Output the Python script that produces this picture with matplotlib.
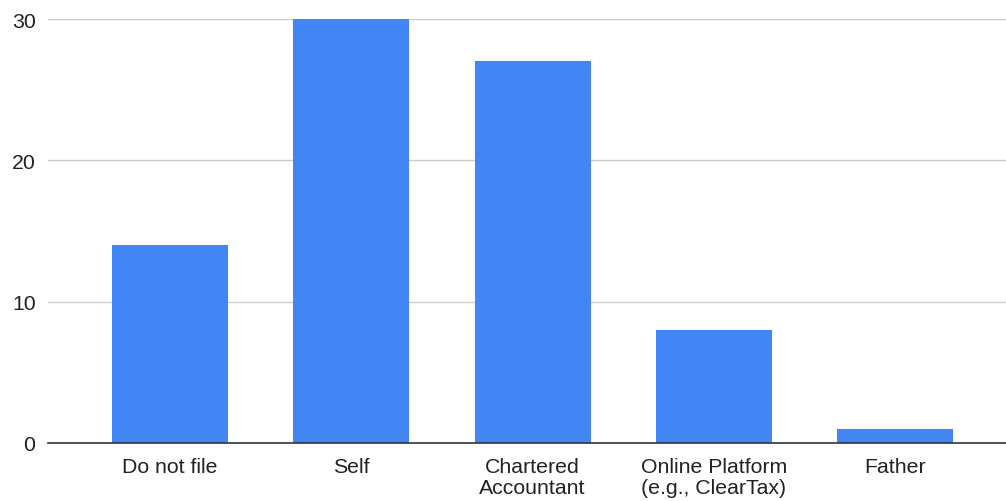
import matplotlib
matplotlib.use("Agg")
import matplotlib.pyplot as plt

categories = ["Do not file", "Self", "Chartered\nAccountant",
              "Online Platform\n(e.g., ClearTax)", "Father"]
counts = [14, 30, 27, 8, 1]
y_ticks = [0, 10, 20, 30]

plt.rcParams["font.family"] = ["Liberation Sans", "DejaVu Sans"]

fig = plt.figure(figsize=(10.06, 5.02), dpi=100)
ax = fig.add_axes([48 / 1006, 1 - 444 / 502, 1 - 48 / 1006, (444 - 20) / 502])

x = list(range(len(categories)))
ax.bar(x, counts, width=0.64, color="#4285F4", zorder=3)

ax.set_xlim(-0.674, 4.613)
ax.set_ylim(0, 30)
ax.set_yticks(y_ticks)
ax.set_xticks(x)
ax.set_xticklabels(categories, fontsize=15.3, color="#222222", linespacing=1.17)
ax.tick_params(axis="y", labelsize=15.3, labelcolor="#222222", length=0, pad=9)
ax.tick_params(axis="x", length=0, pad=10)

ax.grid(axis="y", color="#cccccc", linewidth=1, zorder=0)
for side in ("top", "right", "left"):
    ax.spines[side].set_visible(False)
ax.spines["bottom"].set_color("#333333")
ax.spines["bottom"].set_linewidth(1.2)
ax.spines["bottom"].set_zorder(4)

fig.savefig("out.png", dpi=100)
